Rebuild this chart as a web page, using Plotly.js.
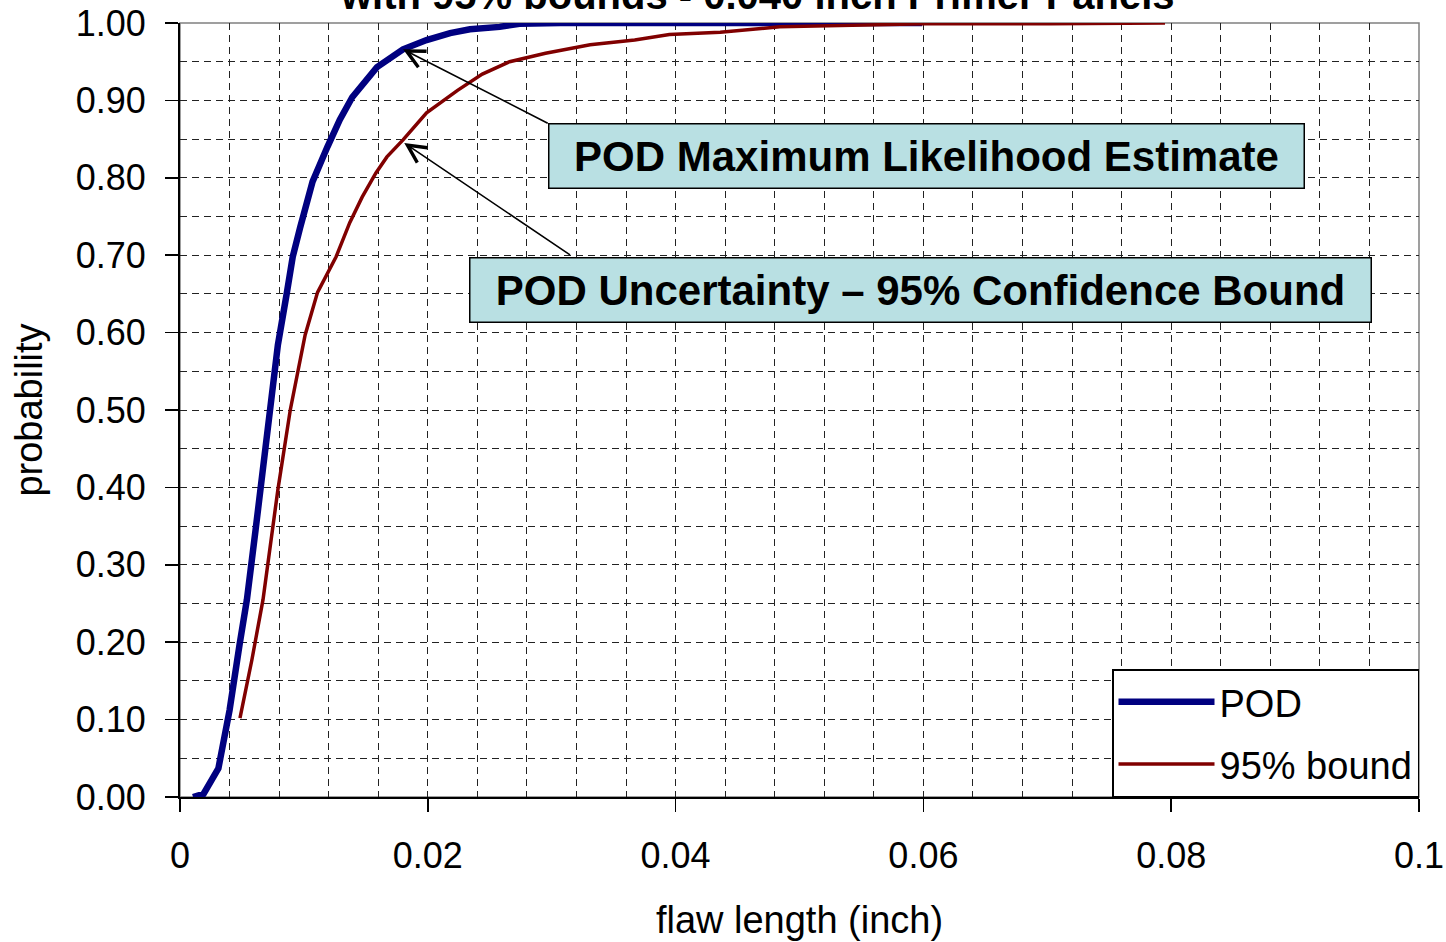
<!DOCTYPE html>
<html>
<head>
<meta charset="utf-8">
<script src="https://cdn.plot.ly/plotly-3.0.1.min.js"></script>
<style>
  html, body { margin: 0; padding: 0; background: #ffffff; }
  #chart { width: 1446px; height: 942px; }
</style>
</head>
<body>
<div id="chart"></div>
<script>
// ---- data ----
const podX = [0.00105, 0.0019, 0.0031, 0.0040, 0.0048, 0.0054, 0.0061, 0.0068, 0.0073, 0.0079,
              0.0086, 0.0091, 0.0097, 0.0107, 0.0119, 0.0129, 0.0139, 0.0159, 0.0180, 0.0199,
              0.0218, 0.0234, 0.0258, 0.0274, 0.0307, 0.0400, 0.0500, 0.0599];
const podY = [0.000, 0.004, 0.037, 0.112, 0.196, 0.255, 0.345, 0.435, 0.513, 0.584,
              0.649, 0.698, 0.736, 0.795, 0.840, 0.875, 0.904, 0.943, 0.966, 0.978,
              0.987, 0.992, 0.995, 0.999, 1.000, 1.000, 1.000, 1.000];

const boundX = [0.00484, 0.0058, 0.0067, 0.0079, 0.0089, 0.0101, 0.0111, 0.0126, 0.0137, 0.0147,
                0.0158, 0.0167, 0.0180, 0.0199, 0.0224, 0.0244, 0.0266, 0.0295, 0.0331, 0.0367,
                0.0395, 0.0436, 0.0484, 0.0557, 0.0601, 0.0702, 0.0751, 0.0795];
const boundY = [0.102, 0.177, 0.255, 0.397, 0.500, 0.597, 0.652, 0.698, 0.742, 0.775,
                0.806, 0.827, 0.849, 0.884, 0.913, 0.934, 0.950, 0.961, 0.972, 0.978,
                0.985, 0.988, 0.995, 0.997, 0.999, 0.999, 1.000, 1.000];

const seriesNames = ["POD", "95% bound"];
const titleText = "with 95% bounds - 0.040 inch Primer Panels";
const xTitle = "flaw length (inch)";
const yTitle = "probability";
const noteMLE = "POD Maximum Likelihood Estimate";
const noteBound = "POD Uncertainty \u2013 95% Confidence Bound";

// ---- chart ----
const FONT = "Liberation Sans, Arial, sans-serif";
const gridDash = "7px,5px";

const traces = [
  { x: podX, y: podY, name: seriesNames[0], type: "scatter", mode: "lines", legendgroup: "a",
    line: { color: "#000080", width: 6.5 }, cliponaxis: false },
  { x: boundX, y: boundY, name: seriesNames[1], type: "scatter", mode: "lines", legendgroup: "b",
    line: { color: "#800000", width: 3.5 }, cliponaxis: false }
];

const boxFill = "#B9E0E3";

const layout = {
  width: 1446, height: 942,
  margin: { l: 180, r: 27, t: 23, b: 145 },
  paper_bgcolor: "#ffffff", plot_bgcolor: "#ffffff",
  font: { family: FONT, color: "#000000", size: 36 },
  showlegend: true,
  legend: {
    x: 1, xanchor: "right", y: 0, yanchor: "bottom",
    bgcolor: "#ffffff", bordercolor: "#000000", borderwidth: 1.5,
    font: { family: FONT, size: 38, color: "#000000" },
    itemwidth: 96, tracegroupgap: 10, traceorder: "grouped"
  },
  xaxis: {
    range: [0, 0.1], dtick: 0.02, tick0: 0,
    showline: true, linecolor: "#000000", linewidth: 2,
    ticks: "outside", ticklen: 13, tickwidth: 1.5, tickcolor: "#000000",
    ticklabelstandoff: 13,
    tickfont: { family: FONT, size: 36 },
    showgrid: true, gridcolor: "#222222", gridwidth: 1, griddash: gridDash,
    minor: { dtick: 0.004, showgrid: true, gridcolor: "#222222", gridwidth: 1, griddash: gridDash, ticks: "" },
    zeroline: false,
    title: { text: xTitle, font: { family: FONT, size: 38 }, standoff: 31 }
  },
  yaxis: {
    range: [0, 1], dtick: 0.1, tick0: 0, tickformat: ".2f",
    showline: true, linecolor: "#000000", linewidth: 2,
    ticks: "outside", ticklen: 13, tickwidth: 1.5, tickcolor: "#000000",
    ticklabelstandoff: 12,
    tickfont: { family: FONT, size: 36 },
    showgrid: true, gridcolor: "#222222", gridwidth: 1, griddash: gridDash,
    minor: { dtick: 0.05, showgrid: true, gridcolor: "#222222", gridwidth: 1, griddash: gridDash, ticks: "" },
    zeroline: false,
    title: { text: yTitle, font: { family: FONT, size: 38 }, standoff: 21 }
  },
  shapes: [
    { type: "rect", xref: "paper", yref: "paper", x0: 0, x1: 1, y0: 0, y1: 1,
      line: { color: "#808080", width: 1.5 }, layer: "below" }
  ],
  annotations: [
    // partially visible title at the very top (cut off in the reference too)
    { text: "<b>" + titleText + "</b>", xref: "paper", yref: "paper",
      x: 0.4657, y: 1.036, xanchor: "center", yanchor: "middle",
      showarrow: false, font: { family: FONT, size: 40, color: "#000000" } },
    // arrows
    { x: 0.0180, y: 0.966, xref: "x", yref: "y", ax: 0.0298, ay: 0.8695, axref: "x", ayref: "y",
      text: "", showarrow: true, arrowhead: 5, arrowsize: 2.2, arrowwidth: 1.6, arrowcolor: "#000000",
      standoff: 0, startstandoff: 0 },
    { x: 0.0181, y: 0.845, xref: "x", yref: "y", ax: 0.0316, ay: 0.699, axref: "x", ayref: "y",
      text: "", showarrow: true, arrowhead: 5, arrowsize: 2.2, arrowwidth: 1.6, arrowcolor: "#000000",
      standoff: 0, startstandoff: 0 },
    // boxes
    { text: "<b>" + noteMLE + "</b>", xref: "x", yref: "y",
      x: 0.06025, y: 0.828, xanchor: "center", yanchor: "middle", showarrow: false,
      width: 754, height: 63, borderpad: 0, bgcolor: boxFill, bordercolor: "#000000", borderwidth: 1.5,
      font: { family: FONT, size: 42, color: "#000000" }, align: "center", valign: "middle" },
    { text: "<b>" + noteBound + "</b>", xref: "x", yref: "y",
      x: 0.05977, y: 0.655, xanchor: "center", yanchor: "middle", showarrow: false,
      width: 900, height: 63, borderpad: 0, bgcolor: boxFill, bordercolor: "#000000", borderwidth: 1.5,
      font: { family: FONT, size: 42, color: "#000000" }, align: "center", valign: "middle" }
  ]
};

Plotly.newPlot("chart", traces, layout, { displayModeBar: false, staticPlot: true });
</script>
</body>
</html>
